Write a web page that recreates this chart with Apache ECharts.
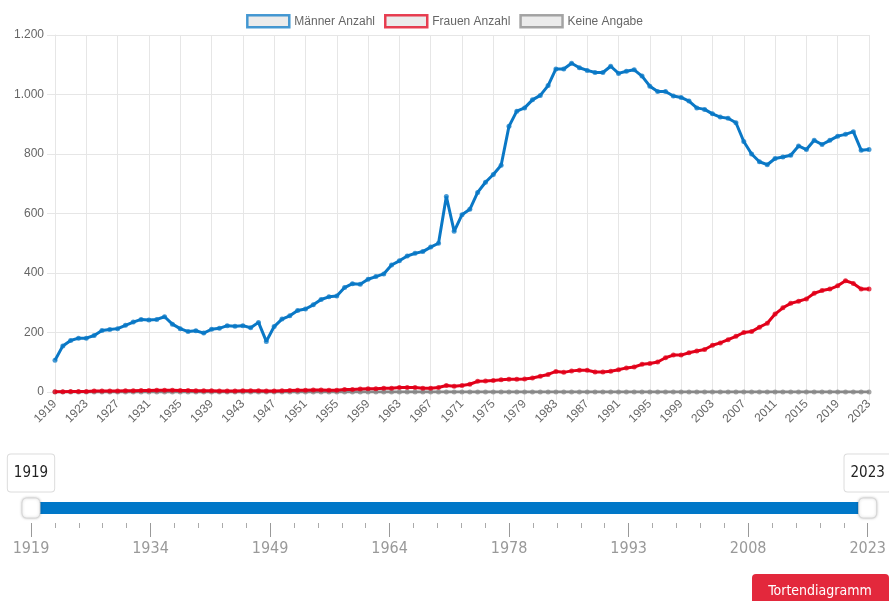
<!DOCTYPE html>
<html>
<head>
<meta charset="utf-8" />
<title></title>
<script src="https://cdn.jsdelivr.net/npm/echarts@6.0.0/dist/echarts.min.js"></script>
<style>
  html, body { margin: 0; padding: 0; background: #fff; }
  #chart { width: 889px; height: 601px; }
</style>
</head>
<body>
<div id="chart"></div>
<script>
// Jahre 1919 - 2023
var years = [];
for (var y = 1919; y <= 2023; y++) years.push(String(y));

var maenner = [
  107, 155, 173, 181, 181, 190, 207, 210, 213, 224,   // 1919-1928
  235, 244, 242, 244, 253, 228, 213, 203, 206, 198,   // 1929-1938
  211, 214, 223, 221, 223, 216, 234, 170, 220, 245,   // 1939-1948
  256, 274, 279, 293, 311, 320, 323, 351, 364, 362,   // 1949-1958
  379, 388, 397, 427, 441, 457, 466, 472, 487, 500,   // 1959-1968
  657, 540, 596, 614, 671, 705, 731, 762, 893, 944,   // 1969-1978
  955, 982, 997, 1030, 1086, 1086, 1105, 1090, 1081, 1074, // 1979-1988
  1074, 1095, 1071, 1078, 1083, 1062, 1028, 1010, 1010, 995, // 1989-1998
  990, 978, 955, 950, 935, 924, 920, 905, 842, 800,   // 1999-2008
  774, 764, 785, 790, 796, 827, 815, 846, 832, 846,   // 2009-2018
  860, 866, 875, 813, 815                             // 2019-2023
];

var frauen = [
  1, 1, 2, 2, 2, 3, 3, 3, 3, 4,        // 1919-1928
  4, 5, 5, 6, 6, 6, 5, 5, 4, 4,        // 1929-1938
  4, 3, 3, 3, 4, 4, 4, 3, 3, 4,        // 1939-1948
  5, 6, 6, 7, 7, 6, 6, 8, 8, 10,       // 1949-1958
  11, 11, 13, 13, 15, 15, 15, 13, 13, 15, // 1959-1968
  22, 19, 22, 26, 36, 37, 39, 41, 43, 43, // 1969-1978
  44, 47, 53, 59, 69, 66, 71, 73, 73, 67, // 1979-1988
  67, 70, 75, 81, 84, 93, 96, 101, 115, 124, // 1989-1998
  124, 132, 138, 143, 157, 165, 176, 187, 200, 203, // 1999-2008
  218, 231, 262, 283, 298, 305, 313, 332, 341, 346, // 2009-2018
  357, 374, 365, 346, 346              // 2019-2023
];

var keineAngabe = years.map(function () { return 0; });

var seriesNames = ['Männer Anzahl', 'Frauen Anzahl', 'Keine Angabe'];
var seriesColors = ['#0a78c6', '#e2001a', '#888888'];

// Schieberegler
var sliderYears = [1919, 2023];
var sliderTicks = ['1919', '1934', '1949', '1964', '1978', '1993', '2008', '2023'];

function fmtDe(v) {
  return String(v).replace(/\B(?=(\d{3})+(?!\d))/g, '.');
}

var gridColor = '#e6e6e6';
var narrow = '"Liberation Sans Narrow", "DejaVu Sans Condensed", sans-serif';

function lineSeries(idx, data, z) {
  return {
    name: seriesNames[idx],
    type: 'line',
    data: data,
    z: z,
    symbol: 'circle',
    symbolSize: 5,
    showAllSymbol: true,
    lineStyle: { width: 3, color: seriesColors[idx] },
    itemStyle: { color: seriesColors[idx], opacity: 0.75 },
    emphasis: { disabled: true }
  };
}

var myChart = echarts.init(document.getElementById('chart'));
var option = {
  animation: false,
  textStyle: { fontFamily: '"Liberation Sans", Arial, sans-serif' },
  legend: {
    top: 9,
    left: 'center',
    icon: 'rect',
    itemWidth: 42,
    itemHeight: 12,
    itemGap: 9,
    textStyle: { fontSize: 12, color: '#666' },
    data: seriesNames.map(function (n, i) {
      return {
        name: n,
        itemStyle: { color: '#e4e4e4', borderColor: seriesColors[i], borderWidth: 2.5 }
      };
    })
  },
  grid: [
    { left: 55, right: 20, top: 35, bottom: 209 },
    { left: 31, right: 20, top: 498, height: 25 }
  ],
  xAxis: [
    {
      type: 'category',
      data: years,
      boundaryGap: false,
      axisLine: { show: true, lineStyle: { color: gridColor } },
      axisTick: { show: true, interval: 3, length: 8, lineStyle: { color: gridColor } },
      splitLine: { show: true, interval: 3, lineStyle: { color: gridColor } },
      axisLabel: { interval: 3, rotate: 45, fontSize: 12, color: '#666', margin: 10 }
    },
    {
      gridIndex: 1,
      type: 'value',
      position: 'bottom',
      min: 0,
      max: 7,
      interval: 1,
      axisLine: { show: false, onZero: false },
      axisTick: { show: true, inside: false, length: 14, lineStyle: { color: '#999' } },
      minorTick: { show: true, splitNumber: 5, length: 5, lineStyle: { color: '#aaa' } },
      splitLine: { show: false },
      axisLabel: {
        margin: 18,
        fontSize: 16,
        color: '#999',
        fontFamily: narrow,
        formatter: function (v) { return sliderTicks[Math.round(v)]; }
      }
    }
  ],
  yAxis: [
    {
      type: 'value',
      min: 0,
      max: 1200,
      interval: 200,
      axisLine: { show: true, lineStyle: { color: gridColor } },
      axisTick: { show: true, length: 8, lineStyle: { color: gridColor } },
      splitLine: { lineStyle: { color: gridColor } },
      axisLabel: { fontSize: 12, color: '#666', margin: 11, formatter: fmtDe }
    },
    { gridIndex: 1, type: 'value', min: -1.5, max: 1, show: false }
  ],
  series: [
    lineSeries(0, maenner, 4),
    lineSeries(1, frauen, 3),
    lineSeries(2, keineAngabe, 2),
    {
      type: 'line',
      xAxisIndex: 1,
      yAxisIndex: 1,
      silent: true,
      symbol: 'none',
      data: [[0, 0], [sliderTicks.length - 1, 0]],
      lineStyle: { width: 12, color: '#0077c8' },
      z: 2
    },
    {
      type: 'scatter',
      xAxisIndex: 1,
      yAxisIndex: 1,
      silent: true,
      symbol: 'roundRect',
      symbolSize: [18, 20],
      data: sliderYears.map(function (yr, i) {
        return [i * (sliderTicks.length - 1), 0, String(yr)];
      }),
      itemStyle: {
        color: '#fff',
        opacity: 1,
        borderColor: '#d6d6d6',
        borderWidth: 1,
        shadowBlur: 3,
        shadowColor: 'rgba(0,0,0,0.2)'
      },
      label: {
        show: true,
        position: 'top',
        distance: 6,
        formatter: function (p) { return p.value[2]; },
        backgroundColor: '#fff',
        borderColor: '#dcdcdc',
        borderWidth: 1,
        borderRadius: 3,
        padding: [10, 6, 10, 6],
        lineHeight: 17,
        fontSize: 15,
        color: '#222',
        fontFamily: narrow
      },
      z: 3
    }
  ],
  graphic: [
    {
      type: 'group',
      right: 0,
      top: 574,
      children: [
        {
          type: 'rect',
          shape: { x: 0, y: 0, width: 137, height: 34, r: 4 },
          style: { fill: '#e3283c' }
        },
        {
          type: 'text',
          x: 68,
          y: 17,
          style: {
            text: 'Tortendiagramm',
            align: 'center',
            verticalAlign: 'middle',
            fill: '#fff',
            font: '14px ' + narrow
          }
        }
      ]
    }
  ]
};
myChart.setOption(option);
</script>
</body>
</html>
